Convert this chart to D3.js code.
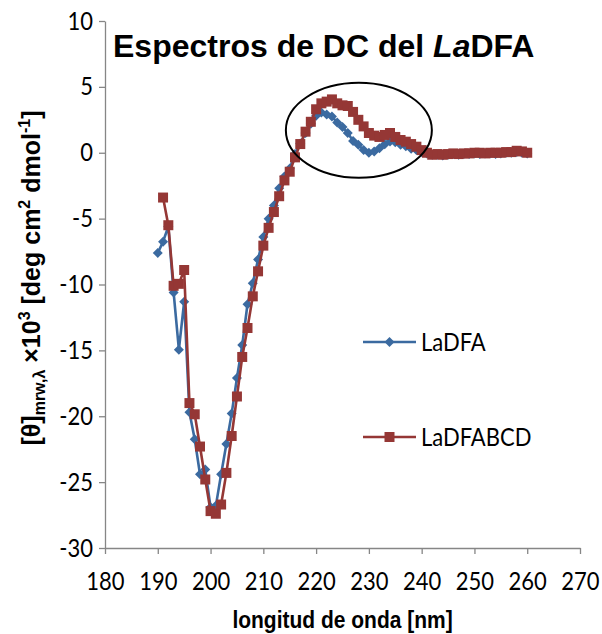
<!DOCTYPE html>
<html>
<head>
<meta charset="utf-8">
<script src="https://cdn.jsdelivr.net/npm/d3@7"></script>
<style>
  html, body { margin: 0; padding: 0; background: #ffffff; }
  svg { display: block; }
</style>
</head>
<body>
<svg id="chart" width="602" height="634"></svg>
<script>
// Wavelengths (nm) and mean residue ellipticity (x10^3 deg cm2 dmol-1)
const wavelengthsLaDFA = [190,191,192,193,194,195,196,197,198,199,200,201,202,203,204,205,206,207,208,209,210,211,212,213,214,215,216,217,218,219,220,221,222,223,224,225,226,227,228,229,230,231,232,233,234,235,236,237,238,239,240,241,242,243,244,245,246,247,248,249,250,251,252,253,254,255,256,257,258,259,260];
const valuesLaDFA = [-7.6,-6.75,-5.6,-10.6,-14.95,-11.3,-19.7,-21.75,-24.4,-24.05,-26.9,-26.8,-24.4,-22.1,-19.8,-17.1,-14.6,-11.5,-9.9,-8.1,-6.4,-5.0,-4.0,-2.7,-1.8,-1.2,-0.1,0.7,1.5,2.2,2.8,3.05,2.9,2.75,2.3,1.95,1.5,0.9,0.6,0.2,0.0,0.1,0.35,0.65,0.85,0.8,0.6,0.5,0.3,0.2,0.05,-0.05,-0.15,-0.15,-0.2,-0.15,-0.1,-0.15,-0.1,-0.1,-0.05,-0.1,-0.05,-0.05,-0.1,-0.05,0.0,0.0,0.05,0.0,-0.05];

const wavelengthsLaDFABCD = [191,192,193,194,195,196,197,198,199,200,201,202,203,204,205,206,207,208,209,210,211,212,213,214,215,216,217,218,219,220,221,222,223,224,225,226,227,228,229,230,231,232,233,234,235,236,237,238,239,240,241,242,243,244,245,246,247,248,249,250,251,252,253,254,255,256,257,258,259,260];
const valuesLaDFABCD = [-3.4,-5.5,-10.1,-9.95,-8.9,-19.0,-19.85,-22.3,-24.8,-27.2,-27.4,-26.7,-24.3,-21.5,-18.5,-15.5,-13.3,-10.9,-9.0,-7.05,-5.7,-4.5,-3.3,-2.1,-1.44,-0.35,0.66,1.6,2.35,3.3,3.75,3.88,4.05,3.75,3.6,3.55,3.1,2.5,2.0,1.5,1.3,1.2,1.35,1.5,1.2,0.97,0.84,0.66,0.46,0.2,0.0,-0.15,-0.1,-0.15,-0.1,-0.05,-0.1,-0.05,-0.05,0.0,0.0,-0.05,0.0,0.0,0.0,0.05,0.05,0.15,0.1,0.0];

const xTicks = [180,190,200,210,220,230,240,250,260,270];
const yTicks = [-30,-25,-20,-15,-10,-5,0,5,10];
const seriesNames = ["LaDFA", "LaDFABCD"];

const blue = "#3B6AA0";
const red = "#953735";
const axisGrey = "#868686";
const tickFont = "Lato, 'Open Sans', sans-serif";
const boldFont = "'Liberation Sans', Arial, sans-serif";
const stretch = 1.15;   // taller glyph proportions for the labels

const svg = d3.select("#chart");
svg.append("rect").attr("width", 602).attr("height", 634).attr("fill", "#ffffff");

const x = d3.scaleLinear().domain([180, 270]).range([105, 580]);
const y = d3.scaleLinear().domain([-30, 10]).range([548, 21]);

// Axes
const xAxis = svg.append("g")
  .attr("transform", `translate(0,${y(-30)})`)
  .call(d3.axisBottom(x).tickValues(xTicks).tickSize(6).tickSizeOuter(0).tickFormat(d3.format("d")));
const yAxis = svg.append("g")
  .attr("transform", `translate(${x(180)},0)`)
  .call(d3.axisLeft(y).tickValues(yTicks).tickSize(6).tickSizeOuter(0).tickFormat(d3.format("d")));

[xAxis, yAxis].forEach(g => {
  g.select(".domain").attr("stroke", axisGrey).attr("stroke-width", 1.3);
  g.selectAll(".tick line").attr("stroke", axisGrey).attr("stroke-width", 1.3);
  g.selectAll(".tick text")
    .attr("fill", "#000000")
    .style("font-family", tickFont)
    .style("font-size", "22px");
});
// x tick labels: baseline about 42px below the axis line
xAxis.selectAll(".tick text")
  .attr("y", null).attr("dy", null)
  .attr("transform", `translate(0,42) scale(1,${stretch})`);
// y tick labels: right-aligned, vertically centred on the tick
yAxis.selectAll(".tick text")
  .text(d => d < 0 ? "-" + Math.abs(d) : d)
  .attr("x", null).attr("dy", null)
  .attr("transform", `translate(-12,8) scale(1,${stretch})`);

// Series
const line = d3.line().x(d => x(d[0])).y(d => y(d[1]));
const ptsA = wavelengthsLaDFA.map((w, i) => [w, valuesLaDFA[i]]);
const ptsB = wavelengthsLaDFABCD.map((w, i) => [w, valuesLaDFABCD[i]]);

const diamond = "M0,-5L5,0L0,5L-5,0Z";
const square = "M-5,-5H5V5H-5Z";

function drawSeries(pts, color, shape) {
  const g = svg.append("g");
  g.append("path").datum(pts)
    .attr("d", line)
    .attr("fill", "none")
    .attr("stroke", color)
    .attr("stroke-width", 2.6)
    .attr("stroke-linejoin", "round");
  g.selectAll("path.mk").data(pts).enter().append("path")
    .attr("class", "mk")
    .attr("d", shape)
    .attr("transform", d => `translate(${x(d[0])},${y(d[1])})`)
    .attr("fill", color);
}
drawSeries(ptsA, blue, diamond);
drawSeries(ptsB, red, square);

// Highlight ellipse around the 220-235 nm band
svg.append("ellipse")
  .attr("cx", x(228.1)).attr("cy", y(1.7))
  .attr("rx", 73).attr("ry", 47.5)
  .attr("fill", "none").attr("stroke", "#000000").attr("stroke-width", 2);

// Title
const title = svg.append("text")
  .attr("x", 113).attr("y", 57)
  .style("font-family", boldFont).style("font-weight", "bold").style("font-size", "32px")
  .attr("fill", "#000000");
title.append("tspan").text("Espectros de DC del ");
title.append("tspan").style("font-style", "italic").text("La");
title.append("tspan").text("DFA");

// Axis titles
svg.append("text")
  .attr("transform", `translate(${x(225)},628) scale(1,${stretch})`)
  .attr("text-anchor", "middle")
  .style("font-family", boldFont).style("font-weight", "bold").style("font-size", "21px")
  .text("longitud de onda [nm]");

const yl = svg.append("text")
  .attr("transform", "translate(40,278) rotate(-90)")
  .attr("text-anchor", "middle")
  .style("font-family", boldFont).style("font-weight", "bold").style("font-size", "25px");
yl.append("tspan").text("[θ]");
yl.append("tspan").attr("dy", 5).style("font-size", "16px").text("mrw,λ");
yl.append("tspan").attr("dy", -5).text(" ×10");
yl.append("tspan").attr("dy", -10).style("font-size", "16px").text("3");
yl.append("tspan").attr("dy", 10).text(" [deg cm");
yl.append("tspan").attr("dy", -10).style("font-size", "16px").text("2");
yl.append("tspan").attr("dy", 10).text(" dmol");
yl.append("tspan").attr("dy", -10).style("font-size", "16px").text("-1");
yl.append("tspan").attr("dy", 10).text("]");

// Legend
const legendRows = [
  { name: seriesNames[0], color: blue, shape: diamond, y: 342 },
  { name: seriesNames[1], color: red, shape: square, y: 437 }
];
const lg = svg.append("g");
legendRows.forEach(r => {
  lg.append("line").attr("x1", 363).attr("x2", 416).attr("y1", r.y).attr("y2", r.y)
    .attr("stroke", r.color).attr("stroke-width", 2.6);
  lg.append("path").attr("d", r.shape).attr("transform", `translate(389.5,${r.y})`).attr("fill", r.color);
  lg.append("text")
    .attr("transform", `translate(421,${r.y + 9}) scale(1,${stretch})`)
    .style("font-family", tickFont).style("font-size", "22px").attr("fill", "#000000")
    .text(r.name);
});
</script>
</body>
</html>
